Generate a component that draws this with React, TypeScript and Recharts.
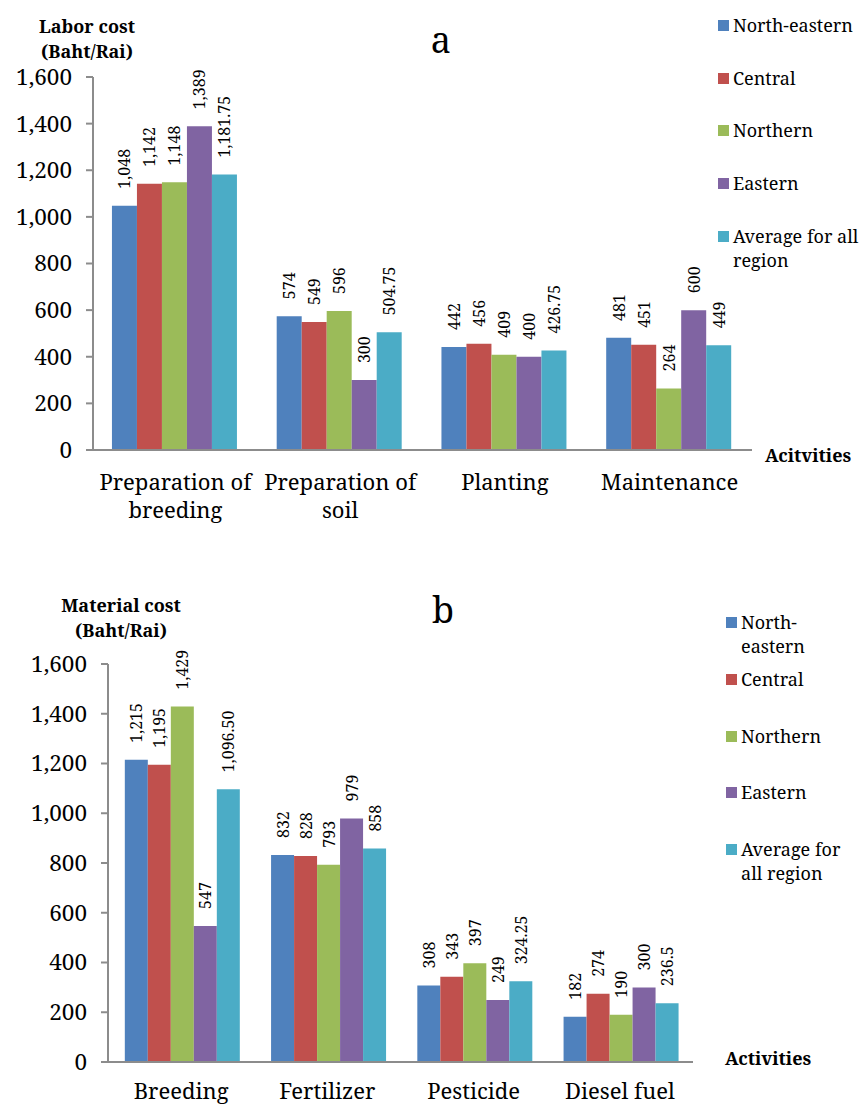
import { BarChart, Bar, XAxis, YAxis, LabelList } from "recharts";

const FONT = "'Noto Serif', 'DejaVu Serif', serif";

// chart a: labor cost
const categoriesA = ["Preparation of breeding", "Preparation of soil", "Planting", "Maintenance"];
const northEasternA = [1048, 574, 442, 481];
const centralA = [1142, 549, 456, 451];
const northernA = [1148, 596, 409, 264];
const easternA = [1389, 300, 400, 600];
const averageA = [1181.75, 504.75, 426.75, 449];

// chart b: material cost
const categoriesB = ["Breeding", "Fertilizer", "Pesticide", "Diesel fuel"];
const northEasternB = [1215, 832, 308, 182];
const centralB = [1195, 828, 343, 274];
const northernB = [1429, 793, 397, 190];
const easternB = [547, 979, 249, 300];
const averageB = [1096.5, 858, 324.25, 236.5];
const averageLabelsB = ["1,096.50", "858", "324.25", "236.5"];

const yTicks = [0, 200, 400, 600, 800, 1000, 1200, 1400, 1600];

const seriesKeys = ["ne", "ce", "no", "ea", "av"];
const seriesColors = ["#4F81BD", "#C0504D", "#9BBB59", "#8064A2", "#4BACC6"];
const legendNamesA = ["North-eastern", "Central", "Northern", "Eastern", "Average for all\nregion"];
const legendNamesB = ["North-\neastern", "Central", "Northern", "Eastern", "Average for\nall region"];

const fmt = (v: number) => v.toLocaleString("en-US", { maximumFractionDigits: 2 });

function buildRows(cats: string[], cols: number[][], labels?: (string[] | null)[]) {
  return cats.map((c, i) => {
    const row: Record<string, string | number> = { cat: c };
    seriesKeys.forEach((k, s) => {
      row[k] = cols[s][i];
      const l = labels && labels[s];
      row[k + "Label"] = l ? l[i] : fmt(cols[s][i]);
    });
    return row;
  });
}

const dataA = buildRows(categoriesA, [northEasternA, centralA, northernA, easternA, averageA]);
const dataB = buildRows(
  categoriesB,
  [northEasternB, centralB, northernB, easternB, averageB],
  [null, null, null, null, averageLabelsB]
);

const RotatedLabel = (props: any) => {
  const { x, y, width, value } = props;
  const cx = Number(x) + Number(width) / 2;
  const ty = Number(y) - 17;
  return (
    <text
      x={cx}
      y={ty}
      transform={`rotate(-90 ${cx} ${ty})`}
      textAnchor="start"
      dominantBaseline="central"
      fontSize={16}
      fontFamily={FONT}
      fill="#000"
    >
      {value}
    </text>
  );
};

const CategoryTick = (props: any) => {
  const { x, y, payload, baseline } = props;
  const words = String(payload.value).split(" ");
  const lines =
    payload.value.length > 14 ? [words.slice(0, -1).join(" "), words[words.length - 1]] : [payload.value];
  return (
    <text x={x} y={y + baseline} textAnchor="middle" fontSize={22} fontFamily={FONT} fill="#000">
      {lines.map((l, i) => (
        <tspan key={i} x={x} dy={i === 0 ? 0 : 28}>
          {l}
        </tspan>
      ))}
    </text>
  );
};

function Legend({ names, left, top, step }: { names: string[]; left: number; top: number; step: number }) {
  return (
    <>
      {names.map((n, i) => (
        <div
          key={n}
          style={{ position: "absolute", left, top: top + i * step - 12, display: "flex", alignItems: "flex-start" }}
        >
          <div style={{ width: 11, height: 11, background: seriesColors[i], marginTop: 7, marginRight: 4 }} />
          <div style={{ fontSize: 18, lineHeight: "24px", whiteSpace: "pre", color: "#000" }}>{n}</div>
        </div>
      ))}
    </>
  );
}

function CostChart({ data, width, height, margin, yWidth, xHeight, baseline }: any) {
  return (
    <BarChart width={width} height={height} data={data} margin={margin} barCategoryGap="11.5%" barGap={0}>
      <XAxis
        dataKey="cat"
        axisLine={{ stroke: "#8c8c8c", strokeWidth: 2 }}
        tickLine={false}
        tickSize={0}
        tickMargin={0}
        height={xHeight}
        tick={<CategoryTick baseline={baseline} />}
        interval={0}
      />
      <YAxis
        domain={[0, 1600]}
        ticks={yTicks}
        width={yWidth}
        axisLine={{ stroke: "#8c8c8c", strokeWidth: 2 }}
        tickLine={{ stroke: "#8c8c8c", strokeWidth: 2 }}
        tickSize={7}
        tickMargin={14}
        tickFormatter={(v) => v.toLocaleString("en-US")}
        tick={{ fontSize: 22.5, fontFamily: FONT, fill: "#000" }}
        interval={0}
      />
      {seriesKeys.map((k, i) => (
        <Bar key={k} dataKey={k} fill={seriesColors[i]} isAnimationActive={false}>
          <LabelList dataKey={k + "Label"} content={<RotatedLabel />} />
        </Bar>
      ))}
    </BarChart>
  );
}

const boldText = { position: "absolute" as const, fontWeight: "bold", fontSize: 18, color: "#000", lineHeight: "25px" };

export default function App() {
  return (
    <div
      style={{
        position: "absolute",
        left: 0,
        top: 0,
        width: 863,
        height: 1104,
        background: "#fff",
        fontFamily: FONT,
        overflow: "hidden",
      }}
    >
      {/* chart a */}
      <div style={{ position: "absolute", left: 0, top: 0 }}>
        <CostChart
          data={dataA}
          width={863}
          height={540}
          margin={{ top: 77, right: 111, bottom: 30, left: 13 }}
          yWidth={80}
          xHeight={60}
          baseline={40}
        />
      </div>
      <div style={{ ...boldText, left: 27, top: 14, width: 120, textAlign: "center" }}>
        Labor cost
        <br />
        (Baht/Rai)
      </div>
      <div style={{ position: "absolute", left: 421, top: 20, width: 40, textAlign: "center", fontSize: 36, lineHeight: "40px" }}>
        a
      </div>
      <div style={{ ...boldText, left: 765, top: 443 }}>Acitvities</div>
      <Legend names={legendNamesA} left={718} top={25} step={52.7} />

      {/* chart b */}
      <div style={{ position: "absolute", left: 0, top: 560 }}>
        <CostChart
          data={dataB}
          width={863}
          height={544}
          margin={{ top: 104, right: 170, bottom: 2, left: 18 }}
          yWidth={90}
          xHeight={40}
          baseline={37}
        />
      </div>
      <div style={{ ...boldText, left: 51, top: 593, width: 140, textAlign: "center" }}>
        Material cost
        <br />
        (Baht/Rai)
      </div>
      <div style={{ position: "absolute", left: 423, top: 590, width: 40, textAlign: "center", fontSize: 36, lineHeight: "40px" }}>
        b
      </div>
      <div style={{ ...boldText, left: 725, top: 1046 }}>Activities</div>
      <Legend names={legendNamesB} left={726} top={622} step={56.8} />
    </div>
  );
}
